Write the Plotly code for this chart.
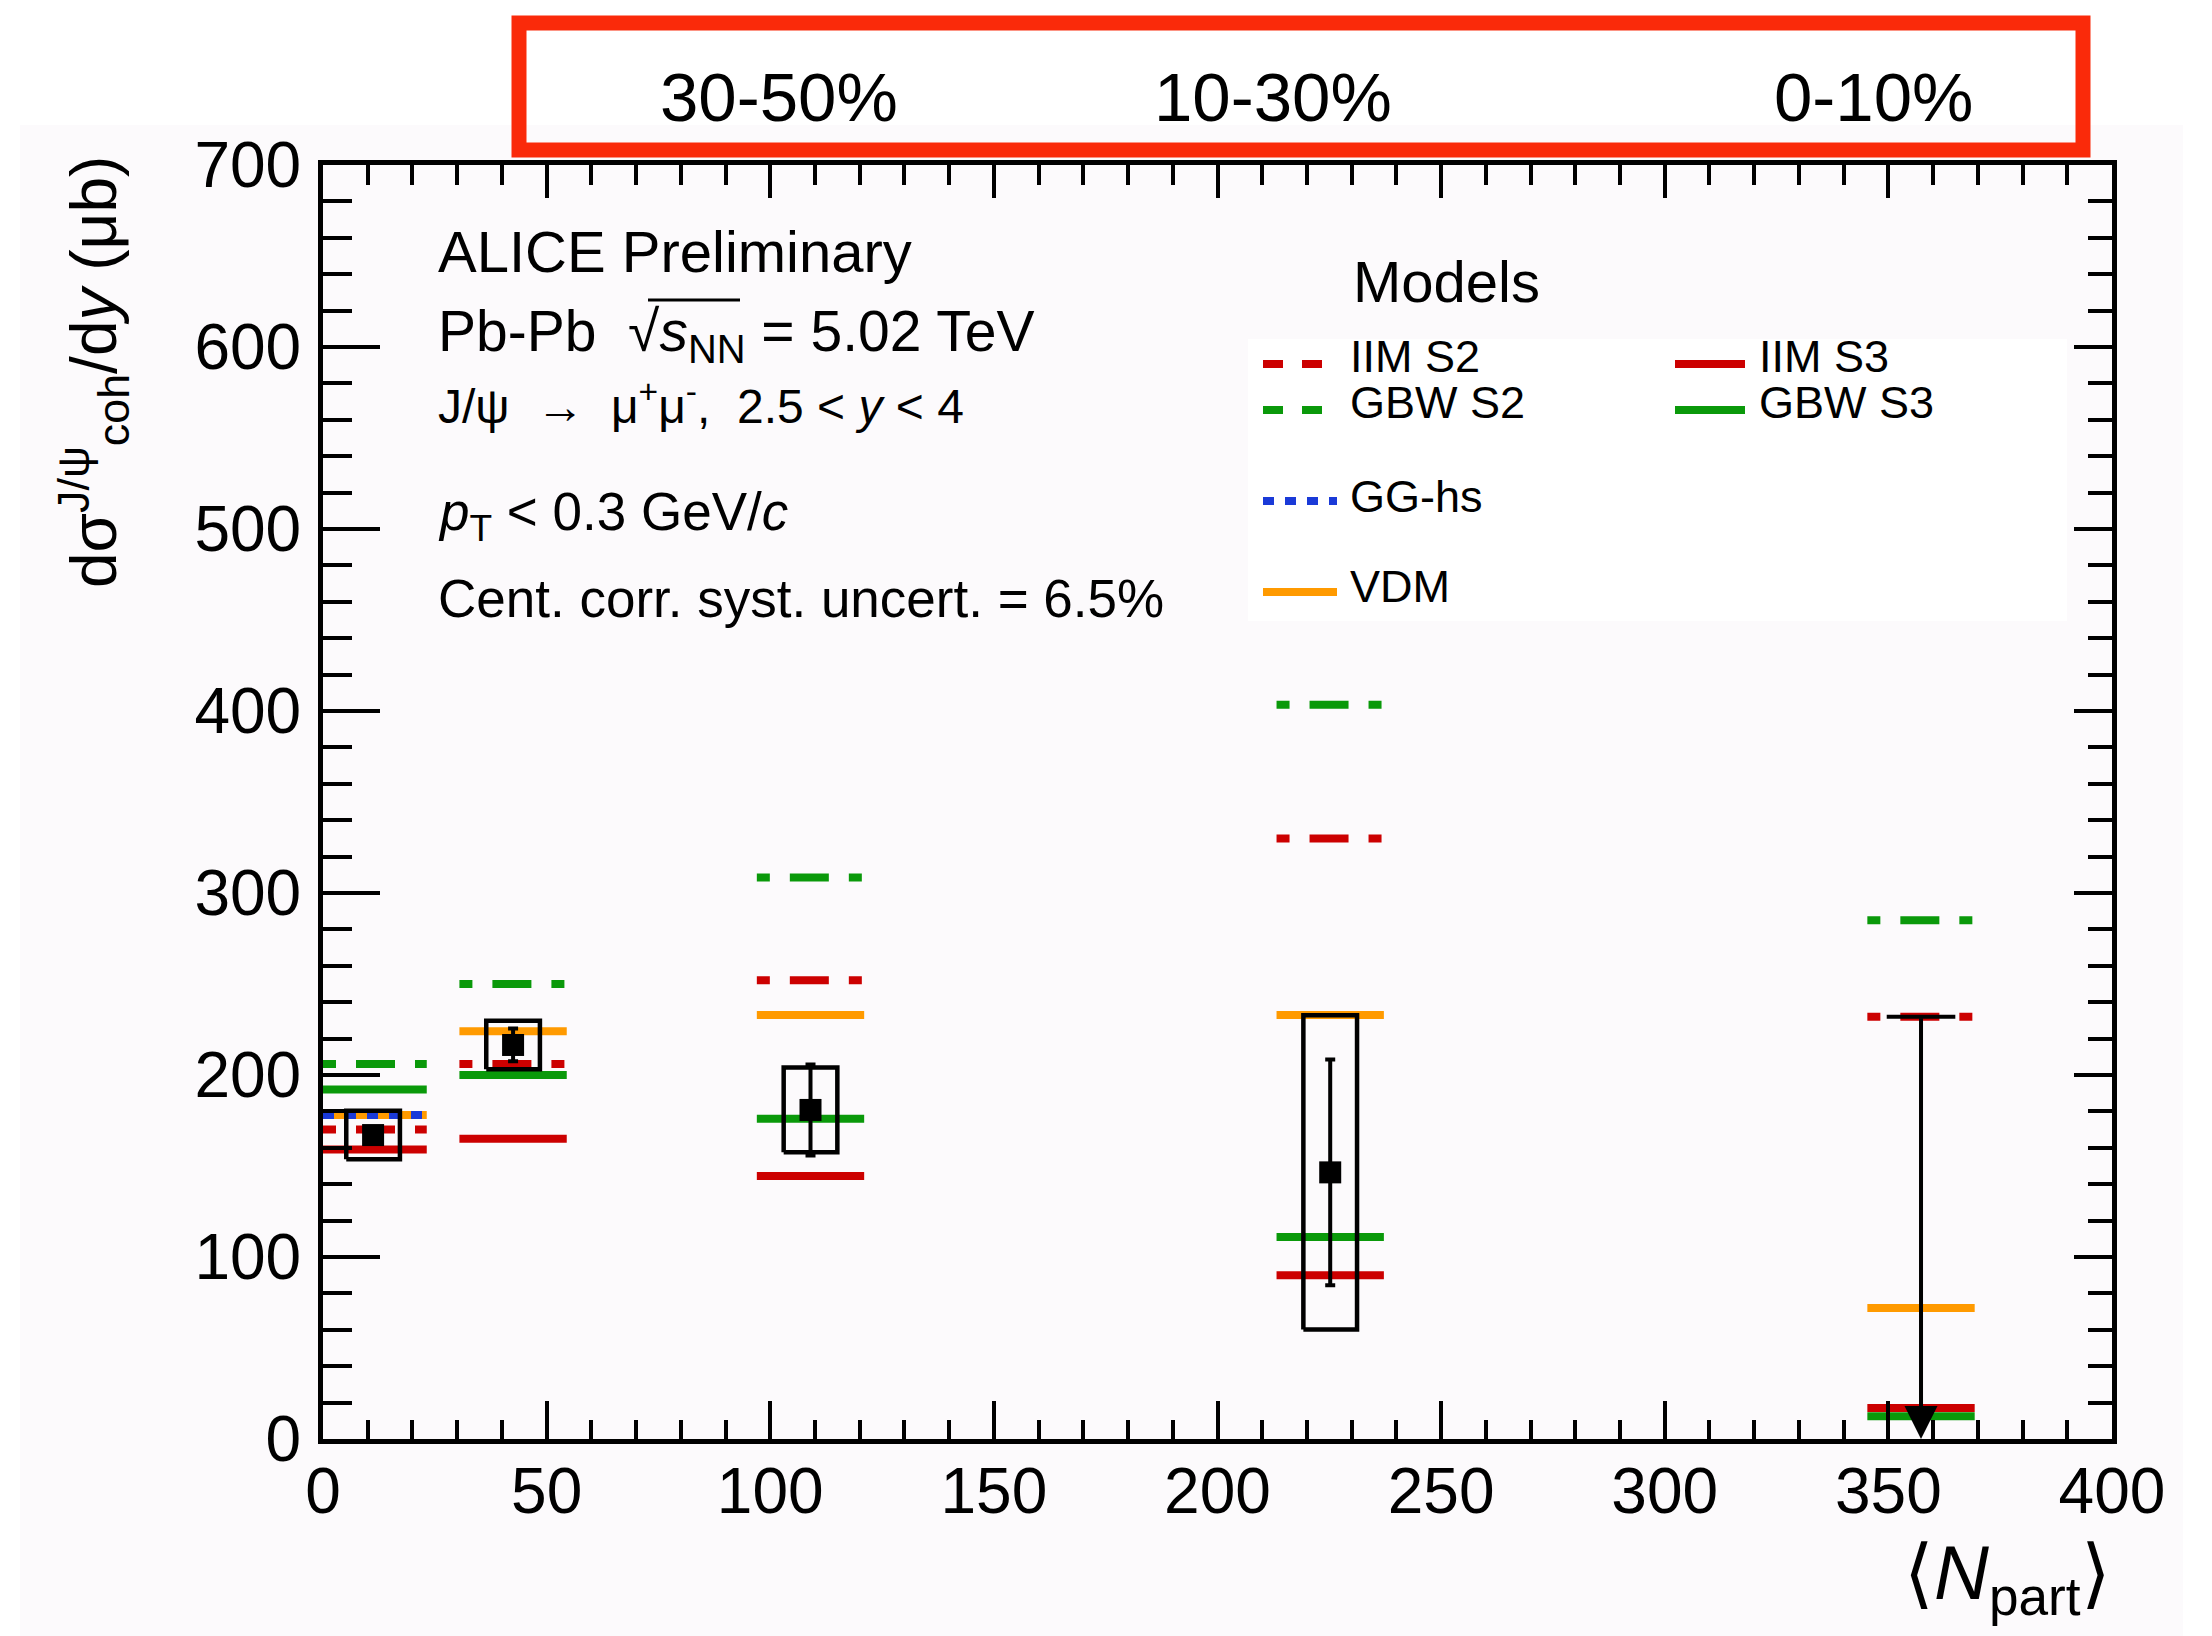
import plotly.graph_objects as go

# ---------------- data ----------------
centrality_labels = ["30-50%", "10-30%", "0-10%"]

npart = [11.2, 42.5, 109.0, 225.2]          # <Npart> of measured points
cs = [167.0, 216.5, 180.8, 146.5]           # dsigma/dy (mub)
stat = [4.0, 9.0, 25.0, 62.0]
syst = [13.3, 13.3, 23.3, 86.3]
npart_ul = [357.3]                           # upper limit point
cs_ul = [232.0]

model_npart = [11.2, 42.5, 109.0, 225.2, 357.3]
model_names = ["IIM S2", "IIM S3", "GBW S2", "GBW S3", "GG-hs", "VDM"]
iim_s2 = [170, 206, 252, 330, 232]
iim_s3 = [159, 165, 144.5, 90, 17]
gbw_s2 = [206, 250, 308.5, 403.5, 285]
gbw_s3 = [192, 200, 176, 111, 12.5]
gg_hs = [178, None, None, None, None]
vdm = [178, 224, 233, 233, 72]

x_ticks = [0, 50, 100, 150, 200, 250, 300, 350, 400]
y_ticks = [0, 100, 200, 300, 400, 500, 600, 700]

# ---------------- styles ----------------
RED = "#cc0000"
GREEN = "#0a990a"
BLUE = "#1a3ad8"
ORANGE = "#ff9a00"
FONT = "Liberation Sans, Arial, Helvetica, sans-serif"
HW_MODEL = 12.0
HW_BOX = 6.0
DASH_S2 = "13px,20px,39px,20px"
DOT = "11px,11px"
LW = 8

W, H = 2212, 1636
L, R, T, B = 323, 100, 165, 197
PW, PH = W - L - R, H - T - B


def px(xp):
    return (xp - L) / PW


def py(yp):
    return (H - B - yp) / PH


def segs(vals):
    xs, ys = [], []
    for c, v in zip(model_npart, vals):
        if v is None:
            continue
        xs += [max(0.0, c - HW_MODEL), c + HW_MODEL, None]
        ys += [v, v, None]
    return xs, ys


fig = go.Figure()

model_specs = [
    ("VDM", vdm, ORANGE, "solid"),
    ("GG-hs", gg_hs, BLUE, DOT),
    ("IIM S2", iim_s2, RED, DASH_S2),
    ("GBW S2", gbw_s2, GREEN, DASH_S2),
    ("IIM S3", iim_s3, RED, "solid"),
    ("GBW S3", gbw_s3, GREEN, "solid"),
]
for name, vals, col, dash in model_specs:
    xs, ys = segs(vals)
    fig.add_trace(go.Scatter(x=xs, y=ys, mode="lines", name=name,
                             line=dict(color=col, width=LW, dash=dash),
                             showlegend=False, hoverinfo="skip"))

# systematic boxes
bx, by = [], []
for c, v, s in zip(npart, cs, syst):
    bx += [c - HW_BOX, c + HW_BOX, c + HW_BOX, c - HW_BOX, c - HW_BOX, None]
    by += [v - s, v - s, v + s, v + s, v - s, None]
fig.add_trace(go.Scatter(x=bx, y=by, mode="lines",
                         line=dict(color="black", width=4.5),
                         showlegend=False, hoverinfo="skip"))

# data points with stat errors
fig.add_trace(go.Scatter(x=npart, y=cs, mode="markers",
                         marker=dict(symbol="square", size=22, color="black"),
                         error_y=dict(type="data", array=stat, visible=True,
                                      color="black", thickness=4, width=5),
                         showlegend=False))

# upper limit cap
fig.add_trace(go.Scatter(x=npart_ul, y=cs_ul, mode="markers",
                         marker=dict(symbol="line-ew", size=49,
                                     line=dict(color="black", width=4)),
                         showlegend=False, hoverinfo="skip"))

# dummy trace for mirrored axes
fig.add_trace(go.Scatter(x=[0], y=[0], xaxis="x2", yaxis="y2", mode="markers",
                         marker=dict(opacity=0), showlegend=False,
                         hoverinfo="skip"))

annotations = []
# upper limit arrow
annotations.append(dict(x=npart_ul[0], y=0, ax=npart_ul[0], ay=cs_ul[0],
                        xref="x", yref="y", axref="x", ayref="y", text="",
                        showarrow=True, arrowhead=2, arrowsize=1.65,
                        arrowwidth=4, arrowcolor="black", standoff=0))

# text block: (text, font size, baseline px, centre offset in em)
tb = [
    ("ALICE Preliminary", 58, 272, 0.3465),
    ("Pb-Pb  √<i>s</i><sub>NN</sub> = 5.02 TeV", 57, 348, 0.228),
    ("J/ψ  →  μ<sup>+</sup>μ<sup>-</sup>,  2.5 &lt; <i>y</i> &lt; 4",
     48, 427, 0.51),
    ("<i>p</i><sub>T</sub> &lt; 0.3 GeV/<i>c</i>", 53, 528, 0.228),
    ("Cent. corr. syst. uncert. = 6.5%", 53, 617, 0.3465),
]
for txt, fs, base, k in tb:
    annotations.append(dict(x=px(436), y=py(base - k * fs), xref="paper",
                            yref="paper", text=txt, showarrow=False,
                            xanchor="left", yanchor="middle",
                            font=dict(family=FONT, size=fs, color="black")))

# legend header
annotations.append(dict(x=px(1351), y=py(302 - 0.3465 * 58), xref="paper",
                        yref="paper", text="Models", showarrow=False,
                        xanchor="left", yanchor="middle",
                        font=dict(family=FONT, size=58, color="black")))

shapes = []
# slide background & legend box
shapes.append(dict(type="rect", xref="paper", yref="paper",
                   x0=px(20), x1=px(2183), y0=py(1636), y1=py(125),
                   fillcolor="#fcfafc", line=dict(width=0), layer="below"))
shapes.append(dict(type="rect", xref="paper", yref="paper",
                   x0=px(1248), x1=px(2067), y0=py(621), y1=py(339),
                   fillcolor="#ffffff", line=dict(width=0), layer="below"))
# radical bar over s_NN
shapes.append(dict(type="line", xref="paper", yref="paper",
                   x0=px(648), x1=px(740), y0=py(300), y1=py(300),
                   line=dict(color="black", width=3)))

# legend entries (swatch + label)
leg_items = [
    ("IIM S2", RED, "20px,19px", 1263, 1323, 364, 1348, 372),
    ("GBW S2", GREEN, "20px,19px", 1263, 1323, 410, 1348, 418),
    ("GG-hs", BLUE, DOT, 1263, 1337, 501, 1348, 512),
    ("VDM", ORANGE, "solid", 1263, 1337, 592, 1348, 602),
    ("IIM S3", RED, "solid", 1675, 1745, 364, 1757, 372),
    ("GBW S3", GREEN, "solid", 1675, 1745, 410, 1757, 418),
]
for name, col, dash, x0, x1, yl, xt, base in leg_items:
    shapes.append(dict(type="line", xref="paper", yref="paper",
                       x0=px(x0), x1=px(x1), y0=py(yl), y1=py(yl),
                       line=dict(color=col, width=LW, dash=dash)))
    annotations.append(dict(x=px(xt), y=py(base - 0.3465 * 45), xref="paper",
                            yref="paper", text=name, showarrow=False,
                            xanchor="left", yanchor="middle",
                            font=dict(family=FONT, size=45, color="black")))

# centrality labels and red box
for lab, xc in zip(centrality_labels, [779, 1273, 1873]):
    annotations.append(dict(x=px(xc), y=py(98), xref="paper", yref="paper",
                            text=lab, showarrow=False, xanchor="center",
                            yanchor="middle",
                            font=dict(family=FONT, size=69, color="black")))
shapes.append(dict(type="rect", xref="paper", yref="paper",
                   x0=px(519), x1=px(2083), y0=py(150), y1=py(23),
                   line=dict(color="#fa2a0a", width=15)))

# axis titles
annotations.append(dict(x=px(93), y=py(372), xref="paper", yref="paper",
                        text="dσ<sup>J/ψ</sup><sub>coh</sub>/d<i>y</i> (μb)",
                        textangle=-90, showarrow=False, xanchor="center",
                        yanchor="middle",
                        font=dict(family=FONT, size=64, color="black")))
annotations.append(dict(x=px(2113), y=py(1595 - 0.228 * 76), xref="paper",
                        yref="paper", text="⟨<i>N</i><sub>part</sub>⟩",
                        showarrow=False, xanchor="right", yanchor="middle",
                        font=dict(family=FONT, size=76, color="black")))

axis_common = dict(showgrid=False, zeroline=False, showline=True,
                   linecolor="black", linewidth=5, ticks="inside",
                   tickcolor="black", tickwidth=3.5)

fig.update_layout(
    width=W, height=H, autosize=False,
    margin=dict(l=L, r=R, t=T, b=B, pad=0),
    paper_bgcolor="white", plot_bgcolor="#fcfafc",
    showlegend=False,
    xaxis=dict(range=[0, 400], tickvals=x_ticks, ticklen=38,
               minor=dict(dtick=10, ticklen=19, ticks="inside",
                          tickcolor="black", tickwidth=3.5),
               tickfont=dict(family=FONT, size=64, color="black"),
               ticklabelstandoff=-8, **axis_common),
    yaxis=dict(range=[0, 700], tickvals=y_ticks, ticklen=57,
               minor=dict(dtick=20, ticklen=29, ticks="inside",
                          tickcolor="black", tickwidth=3.5),
               tickfont=dict(family=FONT, size=64, color="black"),
               ticklabelstandoff=4, **axis_common),
    xaxis2=dict(range=[0, 400], overlaying="x", side="top", tickvals=x_ticks,
                ticklen=33, showticklabels=False,
                minor=dict(dtick=10, ticklen=20, ticks="inside",
                           tickcolor="black", tickwidth=3.5),
                **axis_common),
    yaxis2=dict(range=[0, 700], overlaying="y", side="right", tickvals=y_ticks,
                ticklen=38, showticklabels=False,
                minor=dict(dtick=20, ticklen=24, ticks="inside",
                           tickcolor="black", tickwidth=3.5),
                **axis_common),
    annotations=annotations,
    shapes=shapes,
)

fig.write_html("out.html", config={"displayModeBar": False})
